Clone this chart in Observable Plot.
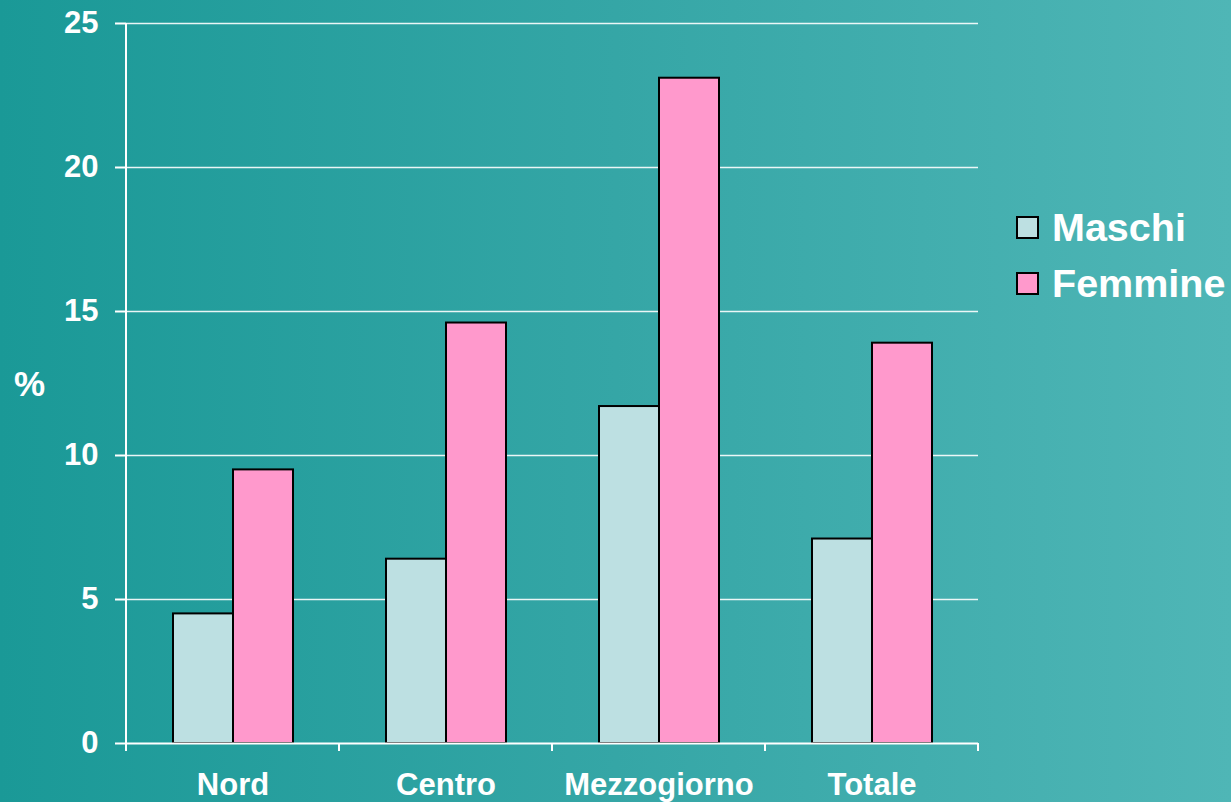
<!DOCTYPE html>
<html>
<head>
<meta charset="utf-8">
<script src="https://cdn.jsdelivr.net/npm/d3@7"></script>
<script src="https://cdn.jsdelivr.net/npm/@observablehq/plot@0.6"></script>
<style>
  html, body { margin: 0; padding: 0; }
  body { width: 1231px; height: 802px; overflow: hidden;
    background: linear-gradient(to right, #1a9997 0%, #35a6a6 50%, #4fb6b6 100%);
    font-family: "Liberation Sans", Arial, sans-serif; }
  #wrap { position: relative; width: 1231px; height: 802px; }
  #chart svg { display: block; }
  .lg { position: absolute; left: 1016px; display: flex; align-items: center; color: white; font-weight: bold; font-size: 39.5px; }
  .sw { width: 19px; height: 19px; border: 2px solid #000; margin-right: 13px; }
  #pct { position: absolute; left: 14px; top: 364px; color: white; font-weight: bold; font-size: 35px; }
</style>
</head>
<body>
<div id="wrap">
  <div id="chart"></div>
  <div id="pct">%</div>
  <div id="legend"></div>
</div>
<script>
const regions = ["Nord", "Centro", "Mezzogiorno", "Totale"];
const sexes = ["Maschi", "Femmine"];
const maschi = [4.5, 6.4, 11.7, 7.1];
const femmine = [9.5, 14.6, 23.1, 13.9];
const yTicks = [0, 5, 10, 15, 20, 25];
const colors = ["#bde0e2", "#ff99cc"];

const data = [];
regions.forEach((r, i) => {
  data.push({region: r, sex: "Maschi", value: maschi[i]});
  data.push({region: r, sex: "Femmine", value: femmine[i]});
});

const plot = Plot.plot({
  width: 1231,
  height: 802,
  marginLeft: 125,
  marginRight: 252,
  marginTop: 23,
  marginBottom: 59,
  style: {background: "transparent", color: "white", fontFamily: "'Liberation Sans', Arial, sans-serif", fontSize: "31px", fontWeight: "bold"},
  fx: {domain: regions, padding: 0, label: null},
  x: {domain: sexes, paddingInner: 0, paddingOuter: 0.75, axis: null},
  y: {domain: [0, 25], label: null},
  color: {domain: sexes, range: colors},
  marks: [
    Plot.gridY(yTicks.slice(1), {stroke: "white", strokeOpacity: 0.9, strokeWidth: 1.3}),
    Plot.barY(data, {fx: "region", x: "sex", y: "value", fill: "sex", stroke: "black", strokeWidth: 2}),
    Plot.ruleY([0], {stroke: "white", strokeWidth: 2}),
    Plot.axisY({ticks: yTicks, tickSize: 11, tickPadding: 17, strokeWidth: 2, label: null, fontSize: 31}),
    Plot.axisFx({anchor: "bottom", tickSize: 0, tickPadding: 29, label: null, fontSize: 31})
  ]
});
document.getElementById("chart").appendChild(plot);

// axis decorations: vertical axis line and category boundary ticks
const fx = plot.scale("fx");
const ys = plot.scale("y");
const svg = d3.select(plot);
const y0 = ys.apply(0), yTop = ys.apply(25);
const bounds = regions.map(r => fx.apply(r)).concat([fx.apply(regions[regions.length - 1]) + fx.bandwidth]);
svg.append("line").attr("x1", bounds[0]).attr("x2", bounds[0]).attr("y1", yTop).attr("y2", y0 + 8)
  .attr("stroke", "white").attr("stroke-width", 2);
bounds.forEach(b => {
  svg.append("line").attr("x1", b).attr("x2", b).attr("y1", y0).attr("y2", y0 + 8)
    .attr("stroke", "white").attr("stroke-width", 2);
});

// legend
const legend = document.getElementById("legend");
sexes.forEach((s, i) => {
  const d = document.createElement("div");
  d.className = "lg";
  d.style.top = (205 + i * 56) + "px";
  d.innerHTML = `<span class="sw" style="background:${colors[i]}"></span><span>${s}</span>`;
  legend.appendChild(d);
});
</script>
</body>
</html>
